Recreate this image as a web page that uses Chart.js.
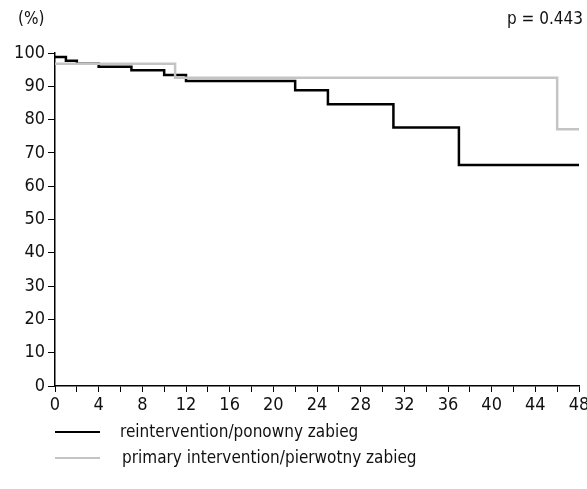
<!DOCTYPE html>
<html>
<head>
<meta charset="utf-8">
<script src="https://cdn.jsdelivr.net/npm/chart.js@4"></script>
<style>
    html, body { margin: 0; padding: 0; background: #fff; }
    body { width: 587px; height: 489px; position: relative; overflow: hidden;
           font-family: "Liberation Sans Narrow", "DejaVu Sans Condensed", sans-serif; color: #111; }
    #wrap { position: absolute; left: 0; top: 0; width: 587px; height: 489px; }
    .note { position: absolute; font-size: 17px; }
    .legend { position: absolute; left: 55px; font-size: 17px; }
    .legend span.swatch { display: inline-block; width: 45px; height: 0; vertical-align: middle; margin-right: 20px; }
</style>
</head>
<body>
<div id="wrap"><canvas id="kmChart" width="587" height="489"></canvas></div>
<div class="note" style="left:18px; top:8px;">(%)</div>
<div class="note" style="right:4px; top:8px;">p = 0.443</div>
<div class="legend" style="top:421px;"><span class="swatch" style="border-top:2px solid #000;"></span>reintervention/ponowny zabieg</div>
<div class="legend" style="top:447px;"><span class="swatch" style="border-top:2px solid #c4c4c4;"></span><span style="margin-left:2px;">primary intervention/pierwotny zabieg</span></div>
<script>
// Kaplan-Meier steps, months vs. % free of event
const reintMonths = [0, 1, 2, 4, 7, 10, 12, 22, 25, 31, 37, 48];
const reintSurv = [98.8, 97.7, 96.8, 95.9, 94.8, 93.4, 91.6, 88.8, 84.6, 77.6, 66.4, 66.4];

const primMonths = [0, 11, 46, 48];
const primSurv = [96.8, 92.6, 77.1, 77.1];

const xTicks = [0, 4, 8, 12, 16, 20, 24, 28, 32, 36, 40, 44, 48];
const yTicks = [0, 10, 20, 30, 40, 50, 60, 70, 80, 90, 100];

const FONT = '"Liberation Sans Narrow", "DejaVu Sans Condensed", sans-serif';

function toPoints(xs, ys) {
    return xs.map((x, i) => ({ x: x, y: ys[i] }));
}

const ctx = document.getElementById('kmChart').getContext('2d');
new Chart(ctx, {
    type: 'line',
    data: {
        datasets: [
            {
                label: 'reintervention/ponowny zabieg',
                data: toPoints(reintMonths, reintSurv),
                borderColor: '#000000',
                borderWidth: 2.5,
                stepped: true,
                pointRadius: 0,
                order: 1
            },
            {
                label: 'primary intervention/pierwotny zabieg',
                data: toPoints(primMonths, primSurv),
                borderColor: '#c4c4c4',
                borderWidth: 2.5,
                stepped: true,
                pointRadius: 0,
                order: 0
            }
        ]
    },
    options: {
        responsive: false,
        animation: false,
        layout: { padding: { top: 53, right: 0, bottom: 69, left: 0 } },
        plugins: {
            legend: { display: false },
            tooltip: { enabled: false }
        },
        scales: {
            x: {
                type: 'linear',
                min: 0,
                max: 48,
                afterBuildTicks: (scale) => {
                    const t = [];
                    for (let v = 0; v <= 48; v += 2) t.push({ value: v });
                    scale.ticks = t;
                },
                afterFit: (scale) => {
                    scale.height = 34;
                    scale.paddingRight = 8;
                },
                ticks: {
                    autoSkip: false,
                    maxRotation: 0,
                    color: '#111',
                    padding: 3,
                    font: { family: FONT, size: 18 },
                    callback: (v) => xTicks.includes(v) ? String(v) : ''
                },
                grid: {
                    drawOnChartArea: false,
                    drawTicks: true,
                    tickLength: 6,
                    tickColor: '#000',
                    tickWidth: 1
                },
                border: { color: '#000', width: 1.5 }
            },
            y: {
                min: 0,
                max: 100,
                afterBuildTicks: (scale) => {
                    scale.ticks = yTicks.map(v => ({ value: v }));
                },
                afterFit: (scale) => { scale.width = 55; },
                ticks: {
                    color: '#111',
                    padding: 3,
                    font: { family: FONT, size: 18 }
                },
                grid: {
                    drawOnChartArea: false,
                    drawTicks: true,
                    tickLength: 7,
                    tickColor: '#000',
                    tickWidth: 1
                },
                border: { color: '#000', width: 1.5 }
            }
        }
    }
});
</script>
</body>
</html>
